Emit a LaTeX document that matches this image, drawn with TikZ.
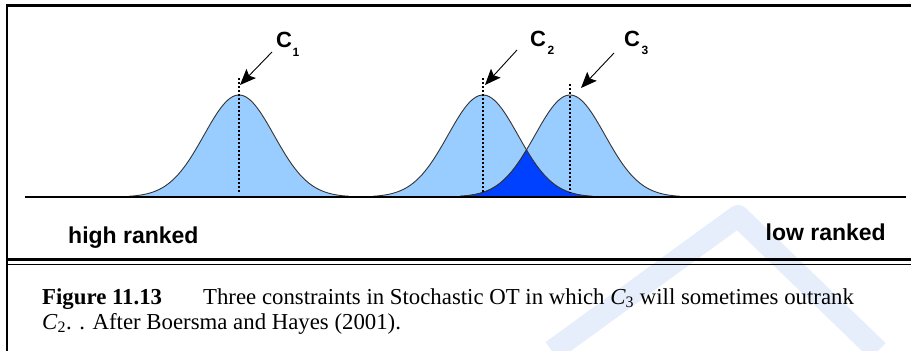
\documentclass[tikz,border=0pt]{standalone}
\usepackage{fontspec}
\setmainfont{Liberation Serif}
\newfontfamily\arialfont{Liberation Sans}
\usetikzlibrary{arrows.meta}
\definecolor{lightbell}{RGB}{153,204,255}
\definecolor{darkbell}{RGB}{0,64,255}
\definecolor{wmark}{RGB}{230,237,251}
\tikzset{
  bell/.style={fill=lightbell,draw=black!80,line width=0.9pt},
  peakline/.style={draw=black,line width=1.8pt,dash pattern=on 2pt off 2pt},
  callout/.style={draw=black,line width=0.9pt,-{Stealth[length=16pt,width=13pt,inset=3pt]}},
  clabel/.style={inner sep=0pt,font=\arialfont\bfseries\fontsize{22}{22}\selectfont},
  csub/.style={inner sep=0pt,font=\arialfont\bfseries\fontsize{12}{12}\selectfont},
  rank/.style={inner sep=0pt,font=\arialfont\bfseries\fontsize{23}{23}\selectfont},
  caption/.style={inner sep=0pt,font=\fontsize{22.8}{24}\selectfont}
}
\begin{document}
\begin{tikzpicture}[x=1pt,y=-1pt]
\useasboundingbox (0,0) rectangle (911,351);
% watermark
\coordinate (wa) at (552,351);
\coordinate (wb) at (738,216);
\coordinate (wc) at (878,351);
\draw[wmark,line width=22pt,line join=round] (wa) -- (wb) -- (wc);
% frame
\coordinate (ftl) at (7,5.5);
\coordinate (ftr) at (911,5.5);
\coordinate (fbl) at (7,351);
\draw[line width=3pt] (ftr) -- (ftl);
\draw[line width=2pt] (7,4) -- (fbl);
% bells
\draw[bell] plot[domain=-110:110,samples=90] ({239+\x},{197-102*exp(-(\x*\x)/2450)});
\draw[bell] plot[domain=-110:110,samples=90] ({483+\x},{197-102*exp(-(\x*\x)/2450)});
\draw[bell] plot[domain=-110:110,samples=90] ({570+\x},{197-102*exp(-(\x*\x)/2450)});
\fill[darkbell] plot[domain=460:526.5,samples=50] ({\x},{197-102*exp(-((\x-570)*(\x-570))/2450)})
  -- plot[domain=526.5:593,samples=50] ({\x},{197-102*exp(-((\x-483)*(\x-483))/2450)}) -- cycle;
\draw[black!80,line width=0.9pt] plot[domain=460:526.5,samples=50] ({\x},{197-102*exp(-((\x-570)*(\x-570))/2450)});
\draw[black!80,line width=0.9pt] plot[domain=526.5:593,samples=50] ({\x},{197-102*exp(-((\x-483)*(\x-483))/2450)});
% axis
\coordinate (axl) at (25,197);
\coordinate (axr) at (906,197);
\draw[line width=1.6pt] (axl) -- (axr);
% peak lines
\coordinate (p1t) at (239,78); \coordinate (p1b) at (239,193);
\coordinate (p2t) at (483,78); \coordinate (p2b) at (483,193);
\coordinate (p3t) at (570,84); \coordinate (p3b) at (570,193);
\draw[peakline] (p1t) -- (p1b);
\draw[peakline] (p2t) -- (p2b);
\draw[peakline] (p3t) -- (p3b);
% callouts
\coordinate (a1s) at (272,52); \coordinate (a1e) at (240,85);
\coordinate (a2s) at (517,50); \coordinate (a2e) at (485,85);
\coordinate (a3s) at (614,53); \coordinate (a3e) at (581,88);
\draw[callout] (a1s) -- (a1e);
\draw[callout] (a2s) -- (a2e);
\draw[callout] (a3s) -- (a3e);
\node[clabel] (c1) at (284,40) {C};
\node[csub] (c1s) at (296,52) {1};
\node[clabel] (c2) at (538,39) {C};
\node[csub] (c2s) at (551,50) {2};
\node[clabel] (c3) at (632,39) {C};
\node[csub] (c3s) at (645,50) {3};
% rank labels
\node[rank,anchor=base west] (high) at (68,243) {high ranked};
\node[rank,anchor=base east] (low) at (886,240) {low ranked};
% double rule
\coordinate (r1l) at (7,259); \coordinate (r1r) at (911,259);
\coordinate (r2l) at (7,264.5); \coordinate (r2r) at (911,264.5);
\draw[line width=3pt] (r1l) -- (r1r);
\draw[line width=1.6pt] (r2l) -- (r2r);
% caption
\node[caption,anchor=base west] (cap1) at (42,304) {\textbf{Figure 11.13}\hspace{1.8em}Three constraints in Stochastic OT in which \textit{C}\textsubscript{3} will sometimes outrank};
\node[caption,anchor=base west] (cap2) at (42,329) {\textit{C}\textsubscript{2}. . After Boersma and Hayes (2001).};
\end{tikzpicture}
\end{document}
